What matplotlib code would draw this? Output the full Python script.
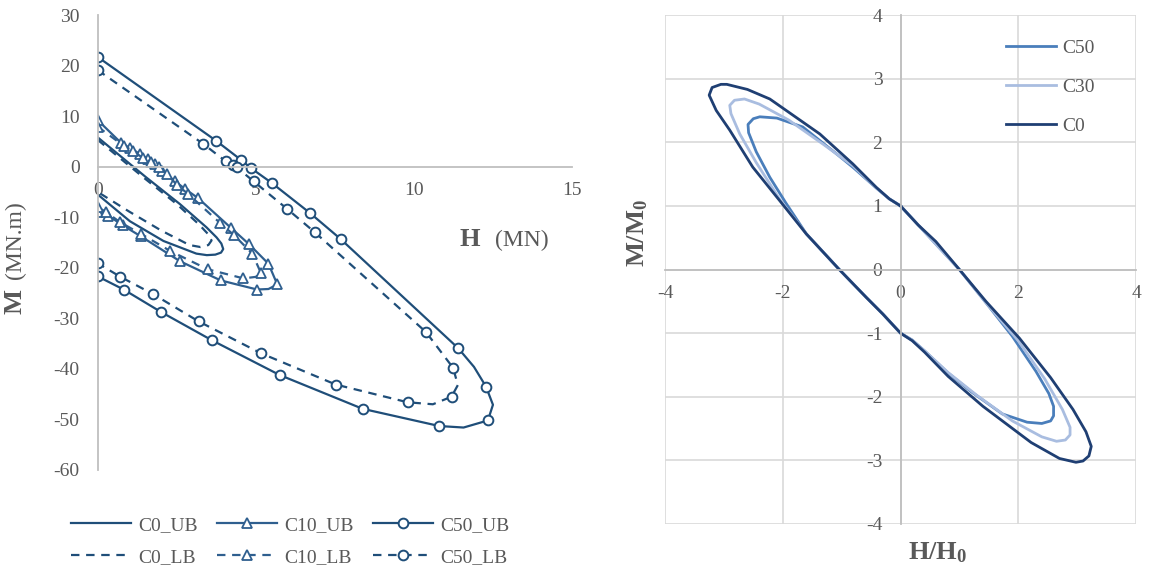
import matplotlib
matplotlib.use("Agg")
import matplotlib.pyplot as plt
from matplotlib.lines import Line2D

plt.rcParams['font.family'] = ['Liberation Serif', 'DejaVu Serif']
plt.rcParams['mathtext.fontset'] = 'custom'
plt.rcParams['mathtext.rm'] = 'Liberation Serif'
plt.rcParams['mathtext.bf'] = 'Liberation Serif:bold'
plt.rcParams['mathtext.it'] = 'Liberation Serif:italic'
plt.rcParams['axes.unicode_minus'] = False

# ---- left panel: H (MN) vs M (MN.m) envelopes ----
c0_ub_h = [0, 1.53, 2.6, 3.44, 3.76, 3.91, 3.97, 3.9, 3.72, 3.45, 3.12, 2.08, 1.02, 0]
c0_ub_m = [5.8, -2.1, -7.4, -12.0, -14.0, -15.2, -16.3, -17.0, -17.4, -17.5, -17.2, -14.7, -10.8, -5.5]
c0_lb_h = [0, 1.5, 2.5, 3.2, 3.5, 3.6, 3.5, 3.25, 2.9, 2.0, 1.0, 0]
c0_lb_m = [5.3, -2.4, -7.4, -11.4, -13.4, -14.6, -15.5, -15.9, -15.5, -12.6, -8.9, -5.0]

c10_ub_h = [0, 0.74, 1.02, 1.34, 1.59, 1.81, 2.03, 2.45, 2.76, 3.17, 4.23, 4.78, 5.4, 5.68, 5.4,
            5.04, 3.89, 2.6, 1.37, 0.79, 0.34, 0]
c10_ub_m = [9.2, 4.7, 3.7, 2.5, 1.5, 0.5, -0.85, -2.9, -4.4, -6.2, -12.2, -15.3, -19.2, -23.3, -24.2,
            -24.3, -22.5, -18.7, -13.8, -11.6, -9.7, -9.0]
c10_lb_h = [0, 0.83, 1.12, 1.43, 1.69, 1.94, 2.2, 2.5, 2.86, 3.88, 4.32, 4.89, 5.16, 5.0, 4.61,
            3.48, 2.3, 1.37, 0.71, 0.27, 0]
c10_lb_m = [7.9, 4.1, 3.1, 1.7, 0.9, -0.06, -1.45, -3.6, -5.4, -11.2, -13.6, -17.2, -21.0, -21.8, -22.1,
            -20.3, -16.7, -13.3, -11.0, -9.0, -8.0]

c50_ub_h = [0, 3.75, 4.53, 4.85, 5.5, 6.7, 7.68, 11.4, 11.9, 12.28, 12.5, 12.34, 11.57, 10.8,
            8.38, 5.75, 3.6, 1.99, 0.82, 0]
c50_ub_m = [21.7, 5.1, 1.35, -0.3, -3.2, -9.1, -14.3, -35.9, -39.6, -43.5, -47.1, -50.2, -51.6, -51.3,
            -47.9, -41.2, -34.3, -28.7, -24.3, -21.7]
c50_lb_h = [0, 3.34, 4.05, 4.28, 4.39, 4.93, 5.98, 6.87, 10.38, 11.24, 11.39, 11.19, 10.6, 9.8,
            7.53, 5.16, 3.19, 1.75, 0.72, 0]
c50_lb_m = [19.1, 4.5, 1.05, 0.3, -0.1, -2.9, -8.3, -13.0, -32.7, -39.8, -43.2, -45.5, -47.0, -46.6,
            -43.1, -36.9, -30.6, -25.2, -21.8, -19.1]

# which points carry a marker (the rest only shape the curve)
c10_ub_marks = [i for i in range(len(c10_ub_h)) if i != 14]
c10_lb_marks = [i for i in range(len(c10_lb_h)) if i != 13]
c50_ub_marks = [i for i in range(len(c50_ub_h)) if i not in (8, 10, 12)]
c50_lb_marks = [i for i in range(len(c50_lb_h)) if i not in (10, 12)]

# ---- right panel: normalised envelopes ----
c50_x = [0, 0.5, 1.0, 1.45, 1.9, 2.3, 2.52, 2.6, 2.6, 2.55, 2.4, 2.15, 1.73, 1.2, 0.8, 0.41, 0.2, 0,
         -0.3, -0.58, -1.04, -1.6, -1.95, -2.22, -2.45, -2.58, -2.59, -2.5, -2.39, -2.1, -1.66, -1.09,
         -0.8, -0.41, -0.19, 0]
c50_y = [1, 0.5, 0, -0.52, -1.05, -1.6, -1.95, -2.15, -2.3, -2.38, -2.42, -2.4, -2.27, -1.92, -1.62,
         -1.28, -1.11, -1, -0.7, -0.44, 0, 0.56, 1.05, 1.45, 1.85, 2.15, 2.28, 2.37, 2.4, 2.38, 2.24,
         1.82, 1.6, 1.28, 1.11, 1]
c30_x = [0, 0.5, 1.0, 1.45, 2.0, 2.45, 2.75, 2.88, 2.88, 2.8, 2.65, 2.4, 1.9, 1.3, 0.81, 0.41, 0.2, 0,
         -0.3, -0.58, -1.04, -1.6, -2.05, -2.45, -2.73, -2.88, -2.9, -2.82, -2.65, -2.4, -1.9, -1.3,
         -0.81, -0.41, -0.19, 0]
c30_y = [1, 0.5, 0, -0.52, -1.12, -1.72, -2.2, -2.48, -2.6, -2.68, -2.7, -2.63, -2.38, -1.98, -1.62,
         -1.28, -1.11, -1, -0.7, -0.44, 0, 0.56, 1.1, 1.68, 2.13, 2.45, 2.58, 2.66, 2.68, 2.6, 2.35,
         1.96, 1.63, 1.28, 1.11, 1]
c0_x = [0, 0.3, 0.6, 1.0, 1.45, 2.02, 2.55, 2.93, 3.15, 3.24, 3.2, 3.1, 2.98, 2.7, 2.22, 1.4, 0.81,
        0.41, 0.2, 0, -0.3, -0.58, -1.04, -1.6, -2.05, -2.51, -2.9, -3.13, -3.25, -3.2, -3.05, -2.95,
        -2.6, -2.22, -1.37, -0.81, -0.41, -0.19, 0]
c0_y = [1, 0.7, 0.44, 0, -0.5, -1.08, -1.7, -2.2, -2.55, -2.78, -2.93, -3.01, -3.03, -2.97, -2.72,
        -2.15, -1.68, -1.3, -1.12, -1, -0.7, -0.44, 0, 0.56, 1.08, 1.61, 2.19, 2.5, 2.74, 2.86, 2.91,
        2.91, 2.83, 2.68, 2.13, 1.66, 1.29, 1.11, 1]

W, H = 1166, 574
fig = plt.figure(figsize=(W / 100, H / 100), dpi=100)
gray_txt = '#595959'
axis_gray = '#bfbfbf'
navy = '#1f4e79'
navy10 = '#2f5f8f'
dash = (3.8, 3.0)

# ===== left =====
ax = fig.add_axes([97.7 / W, 1 - 470 / H, (572 - 97.7) / W, (470 - 15) / H])
ax.set_xlim(0, 15)
ax.set_ylim(-60, 30)
for s in ['top', 'right']:
    ax.spines[s].set_visible(False)
ax.spines['bottom'].set_position(('data', 0))
for s in ['left', 'bottom']:
    ax.spines[s].set_color(axis_gray)
    ax.spines[s].set_linewidth(1.3)
ax.set_xticks([0, 5, 10, 15])
ax.set_yticks(range(-60, 31, 10))
ax.tick_params(length=0, labelsize=14, colors=gray_txt)
ax.tick_params(axis='y', pad=13)
ax.tick_params(axis='x', pad=11)

lw = 1.6
ax.plot(c0_ub_h, c0_ub_m, color=navy, lw=lw, solid_joinstyle='round')
ax.plot(c0_lb_h, c0_lb_m, color=navy, lw=lw, dashes=dash)
tri = dict(marker='^', markersize=7, markerfacecolor='white', markeredgewidth=1.3)
circ = dict(marker='o', markersize=7, markerfacecolor='white', markeredgewidth=1.4)
ax.plot(c10_ub_h, c10_ub_m, color=navy10, lw=lw, markevery=c10_ub_marks, **tri)
ax.plot(c10_lb_h, c10_lb_m, color=navy10, lw=lw, dashes=dash, markevery=c10_lb_marks, **tri)
ax.plot(c50_ub_h, c50_ub_m, color=navy, lw=lw, markevery=c50_ub_marks, **circ)
ax.plot(c50_lb_h, c50_lb_m, color=navy, lw=lw, dashes=dash, markevery=c50_lb_marks, **circ)

handles = [
    Line2D([], [], color=navy, lw=lw),
    Line2D([], [], color=navy, lw=lw, dashes=dash),
    Line2D([], [], color=navy10, lw=lw, **tri),
    Line2D([], [], color=navy10, lw=lw, dashes=dash, **tri),
    Line2D([], [], color=navy, lw=lw, **circ),
    Line2D([], [], color=navy, lw=lw, dashes=dash, **circ),
]
labels = ['C0_UB', 'C0_LB', 'C10_UB', 'C10_LB', 'C50_UB', 'C50_LB']
leg = fig.legend(handles, labels, ncol=3, loc='center', bbox_to_anchor=(290 / W, 1 - 541 / H),
                 frameon=False, fontsize=14, handlelength=3.1, handletextpad=0.35,
                 columnspacing=1.0, labelspacing=0.75)
for t in leg.get_texts():
    t.set_color(gray_txt)

fig.text(470 / W, 1 - 240 / H, 'H', fontsize=19, fontweight='bold', color=gray_txt,
         ha='center', va='center')
fig.text(522 / W, 1 - 240 / H, '(MN)', fontsize=17, color=gray_txt, ha='center', va='center')
fig.text(15 / W, 1 - 302 / H, 'M', fontsize=19, fontweight='bold', color=gray_txt,
         ha='center', va='center', rotation=90)
fig.text(15 / W, 1 - 240 / H, '(MN.m)', fontsize=17, color=gray_txt, ha='center', va='center',
         rotation=90)

# ===== right =====
ax2 = fig.add_axes([665 / W, 1 - 524 / H, (1136 - 665) / W, (524 - 15) / H])
ax2.set_xlim(-4, 4)
ax2.set_ylim(-4, 4)
ax2.set_xticks([-4, -2, 0, 2, 4])
ax2.set_yticks(range(-4, 5))
ax2.grid(True, color='#d9d9d9', lw=1.2)
ax2.set_axisbelow(True)
for s in ['top', 'right']:
    ax2.spines[s].set_visible(False)
for s in ['left', 'bottom']:
    ax2.spines[s].set_position(('data', 0))
    ax2.spines[s].set_color(axis_gray)
    ax2.spines[s].set_linewidth(1.3)
ax2.tick_params(length=0, labelsize=14, colors=gray_txt)
ax2.tick_params(axis='y', pad=13)
ax2.tick_params(axis='x', pad=11)

ax2.plot(c50_x, c50_y, color='#4a7ebb', lw=2.0, label='C50', solid_joinstyle='round')
ax2.plot(c30_x, c30_y, color='#a9bde0', lw=2.0, label='C30', solid_joinstyle='round')
ax2.plot(c0_x, c0_y, color='#1f3f73', lw=2.0, label='C0', solid_joinstyle='round')
leg2 = ax2.legend(loc='upper left', bbox_to_anchor=(988 / W, 1 - 22 / H),
                  bbox_transform=fig.transFigure, frameon=False, fontsize=14,
                  handlelength=2.6, handletextpad=0.3, labelspacing=1.1)
for t in leg2.get_texts():
    t.set_color(gray_txt)

fig.text(938 / W, 1 - 553 / H, r'$\mathbf{H/H_0}$', fontsize=19, color=gray_txt,
         ha='center', va='center')
fig.text(638 / W, 1 - 233 / H, r'$\mathbf{M/M_0}$', fontsize=19, color=gray_txt,
         ha='center', va='center', rotation=90)

fig.savefig('out.png', dpi=100)
